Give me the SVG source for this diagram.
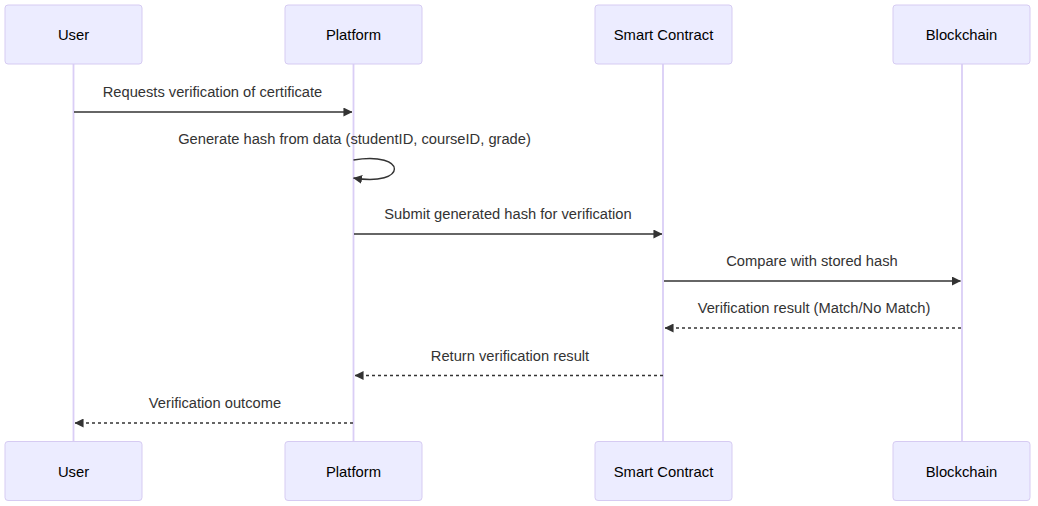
<svg xmlns="http://www.w3.org/2000/svg" width="1038" height="506" viewBox="0 0 1038 506">
<style>
.actor{fill:#ececff;stroke:#d6cbf2;stroke-width:1}
.atxt{font-family:"Liberation Sans",Arial,sans-serif;font-size:14.8px;fill:#000;text-anchor:middle;dominant-baseline:central}
.life{stroke:#dacef6;stroke-width:1.8}
.msg{stroke:#333;stroke-width:1.4;fill:none}
.dash{stroke-dasharray:3,3}
.mtxt{font-family:"Liberation Sans",Arial,sans-serif;font-size:14.7px;fill:#333;text-anchor:middle}
</style>
<defs>
<marker id="ah" viewBox="0 0 10 10" refX="9.5" refY="5" markerWidth="9" markerHeight="9" orient="auto" markerUnits="userSpaceOnUse">
<path d="M0,0 L10,5 L0,10 z" fill="#333"/>
</marker>
</defs>
<rect width="1038" height="506" fill="#fff"/>
<g id="lifelines">
<line class="life" x1="73.5" y1="64" x2="73.5" y2="441"/>
<line class="life" x1="353.5" y1="64" x2="353.5" y2="441"/>
<line class="life" x1="663" y1="64" x2="663" y2="441"/>
<line class="life" x1="962" y1="64" x2="962" y2="441"/>
</g>
<g id="actor-user">
<rect class="actor" x="5" y="5" width="137" height="59" rx="3"/>
<text class="atxt" x="73.5" y="35">User</text>
<rect class="actor" x="5" y="441.5" width="137" height="59" rx="3"/>
<text class="atxt" x="73.5" y="471.5">User</text>
</g>
<g id="actor-platform">
<rect class="actor" x="285" y="5" width="137" height="59" rx="3"/>
<text class="atxt" x="353.5" y="35">Platform</text>
<rect class="actor" x="285" y="441.5" width="137" height="59" rx="3"/>
<text class="atxt" x="353.5" y="471.5">Platform</text>
</g>
<g id="actor-contract">
<rect class="actor" x="595" y="5" width="137" height="59" rx="3"/>
<text class="atxt" x="663.5" y="35">Smart Contract</text>
<rect class="actor" x="595" y="441.5" width="137" height="59" rx="3"/>
<text class="atxt" x="663.5" y="471.5">Smart Contract</text>
</g>
<g id="actor-blockchain">
<rect class="actor" x="893" y="5" width="137" height="59" rx="3"/>
<text class="atxt" x="961.5" y="35">Blockchain</text>
<rect class="actor" x="893" y="441.5" width="137" height="59" rx="3"/>
<text class="atxt" x="961.5" y="471.5">Blockchain</text>
</g>
<g id="connectors">
<line class="msg" x1="74" y1="112" x2="352" y2="112" marker-end="url(#ah)"/>
<path class="msg" d="M353.5,160 C408,151 408,187 353.5,178" marker-end="url(#ah)"/>
<line class="msg" x1="354" y1="234" x2="662" y2="234" marker-end="url(#ah)"/>
<line class="msg" x1="664" y1="281" x2="960.5" y2="281" marker-end="url(#ah)"/>
<line class="msg dash" x1="961" y1="328" x2="665" y2="328" marker-end="url(#ah)"/>
<line class="msg dash" x1="663" y1="375.5" x2="355" y2="375.5" marker-end="url(#ah)"/>
<line class="msg dash" x1="353" y1="423" x2="75" y2="423" marker-end="url(#ah)"/>
</g>
<g id="labels">
<text class="mtxt" x="212.5" y="97">Requests verification of certificate</text>
<text class="mtxt" x="354.5" y="144">Generate hash from data (studentID, courseID, grade)</text>
<text class="mtxt" x="508" y="219">Submit generated hash for verification</text>
<text class="mtxt" x="812" y="266">Compare with stored hash</text>
<text class="mtxt" x="814" y="313">Verification result (Match/No Match)</text>
<text class="mtxt" x="510" y="361">Return verification result</text>
<text class="mtxt" x="215" y="408">Verification outcome</text>
</g>
</svg>
